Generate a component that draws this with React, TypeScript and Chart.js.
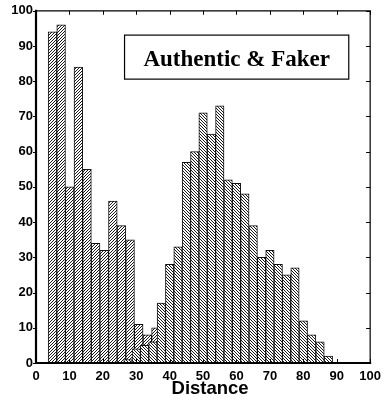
import React, { useEffect, useRef } from 'react';
import { Chart, registerables } from 'chart.js';

Chart.register(...registerables);

// Authentic histogram (bin centres and counts)
const authenticBins = [4.94, 7.52, 10.1, 12.68, 15.26, 17.84, 20.42, 23.0, 25.58, 28.16, 30.74, 33.32, 35.9];
const authenticCounts = [94, 96, 50, 84, 55, 34, 32, 46, 39, 35, 11, 8, 10];

// Faker histogram (bin centres and counts)
const fakerBins = [27.5, 30, 32.5, 35, 37.5, 40, 42.5, 45, 47.5, 50, 52.5, 55, 57.5, 60, 62.5, 65, 67.5, 70, 72.5, 75, 77.5, 80, 82.5, 85, 87.5];
const fakerCounts = [1, 4, 5, 6, 17, 28, 33, 57, 60, 71, 65, 73, 52, 51, 48, 39, 30, 32, 28, 25, 27, 12, 8, 6, 2];

const legendLabel = 'Authentic & Faker';
const xTitle = 'Distance';
const axisMin = 0;
const axisMax = 100;
const tickStep = 10;

function makeHatch(ctx: CanvasRenderingContext2D, forward: boolean, size: number) {
  const c = document.createElement('canvas');
  c.width = size;
  c.height = size;
  const g = c.getContext('2d')!;
  g.fillStyle = '#fff';
  g.fillRect(0, 0, size, size);
  g.strokeStyle = '#000';
  g.lineWidth = 0.9;
  g.beginPath();
  for (const o of [-size, 0, size]) {
    if (forward) {
      g.moveTo(o, size);
      g.lineTo(o + size, 0);
    } else {
      g.moveTo(o, 0);
      g.lineTo(o + size, size);
    }
  }
  g.stroke();
  return ctx.createPattern(c, 'repeat')!;
}

const framePlugin = {
  id: 'frame',
  afterDraw(chart: any) {
    const { ctx, chartArea, scales } = chart;
    const { left, right, top, bottom } = chartArea;
    const x = scales.x;
    const y = scales.y;
    ctx.save();
    ctx.strokeStyle = '#000';
    ctx.lineWidth = 1;
    ctx.beginPath();
    for (const t of x.ticks) {
      const px = Math.round(x.getPixelForValue(t.value)) + 0.5;
      ctx.moveTo(px, top);
      ctx.lineTo(px, top + 4);
      ctx.moveTo(px, bottom);
      ctx.lineTo(px, bottom - 4);
    }
    for (const t of y.ticks) {
      const py = Math.round(y.getPixelForValue(t.value)) + 0.5;
      ctx.moveTo(right, py);
      ctx.lineTo(right - 4, py);
      ctx.moveTo(left, py);
      ctx.lineTo(left - 3, py);
    }
    ctx.stroke();
    // thin top/right frame
    ctx.lineWidth = 1.2;
    ctx.beginPath();
    ctx.moveTo(left, top);
    ctx.lineTo(right, top);
    ctx.lineTo(right, bottom);
    ctx.stroke();
    // thick left/bottom axes
    ctx.lineWidth = 2.2;
    ctx.beginPath();
    ctx.moveTo(left, top - 1);
    ctx.lineTo(left, bottom);
    ctx.lineTo(right + 1, bottom);
    ctx.stroke();

    // legend box
    const bx0 = x.getPixelForValue(26.5);
    const bx1 = x.getPixelForValue(93.6);
    const by0 = y.getPixelForValue(93.1);
    const by1 = y.getPixelForValue(80.6);
    ctx.fillStyle = '#fff';
    ctx.fillRect(bx0, by0, bx1 - bx0, by1 - by0);
    ctx.lineWidth = 1.2;
    ctx.strokeRect(bx0, by0, bx1 - bx0, by1 - by0);
    ctx.fillStyle = '#000';
    ctx.font = "bold 23px 'Liberation Serif', 'Times New Roman', serif";
    ctx.textAlign = 'center';
    ctx.textBaseline = 'alphabetic';
    ctx.fillText(legendLabel, (bx0 + bx1) / 2, by0 + 31);

    // x-axis title
    ctx.font = "bold 18.5px 'Liberation Sans', Arial, sans-serif";
    ctx.fillText(xTitle, (left + right) / 2 + 7, 393.5);
    ctx.restore();
  },
};

export default function App() {
  const ref = useRef<HTMLCanvasElement | null>(null);
  useEffect(() => {
    const canvas = ref.current!;
    const ctx = canvas.getContext('2d')!;
    const authHatch = makeHatch(ctx, true, 3);
    const fakeHatch = makeHatch(ctx, false, 3);
    const tickFont = { family: "'Liberation Sans', Arial, sans-serif", size: 13, weight: 'bold' as const };
    const chart = new Chart(canvas, {
      type: 'bar',
      data: {
        datasets: [
          {
            label: 'Faker',
            data: fakerBins.map((b, i) => ({ x: b, y: fakerCounts[i] })),
            backgroundColor: fakeHatch,
            borderColor: '#111',
            borderWidth: 1,
            barThickness: 8.42,
            grouped: false,
            order: 0,
          } as any,
          {
            label: 'Authentic',
            data: authenticBins.map((b, i) => ({ x: b, y: authenticCounts[i] })),
            backgroundColor: authHatch,
            borderColor: '#111',
            borderWidth: 1,
            barThickness: 8.69,
            grouped: false,
            order: 1,
          } as any,
        ],
      },
      options: {
        animation: false,
        responsive: true,
        maintainAspectRatio: false,
        layout: { padding: { top: 10, right: 15, left: 0, bottom: 0 } },
        plugins: { legend: { display: false }, tooltip: { enabled: false } },
        scales: {
          x: {
            type: 'linear',
            min: axisMin,
            max: axisMax,
            offset: false,
            grid: { display: false, drawTicks: false },
            border: { display: false },
            ticks: { stepSize: tickStep, padding: 6, color: '#000', font: tickFont, maxRotation: 0 },
            afterFit: (s: any) => { s.height = 37; },
          },
          y: {
            min: axisMin,
            max: axisMax,
            grid: { display: false, drawTicks: false },
            border: { display: false },
            ticks: { stepSize: tickStep, padding: 3, color: '#000', font: tickFont },
            afterFit: (s: any) => { s.width = 36; },
          },
        },
      },
      plugins: [framePlugin],
    });
    return () => chart.destroy();
  }, []);
  return (
    <div style={{ position: 'fixed', left: 0, top: 0, width: 387, height: 400, background: '#fff' }}>
      <canvas ref={ref} />
    </div>
  );
}
